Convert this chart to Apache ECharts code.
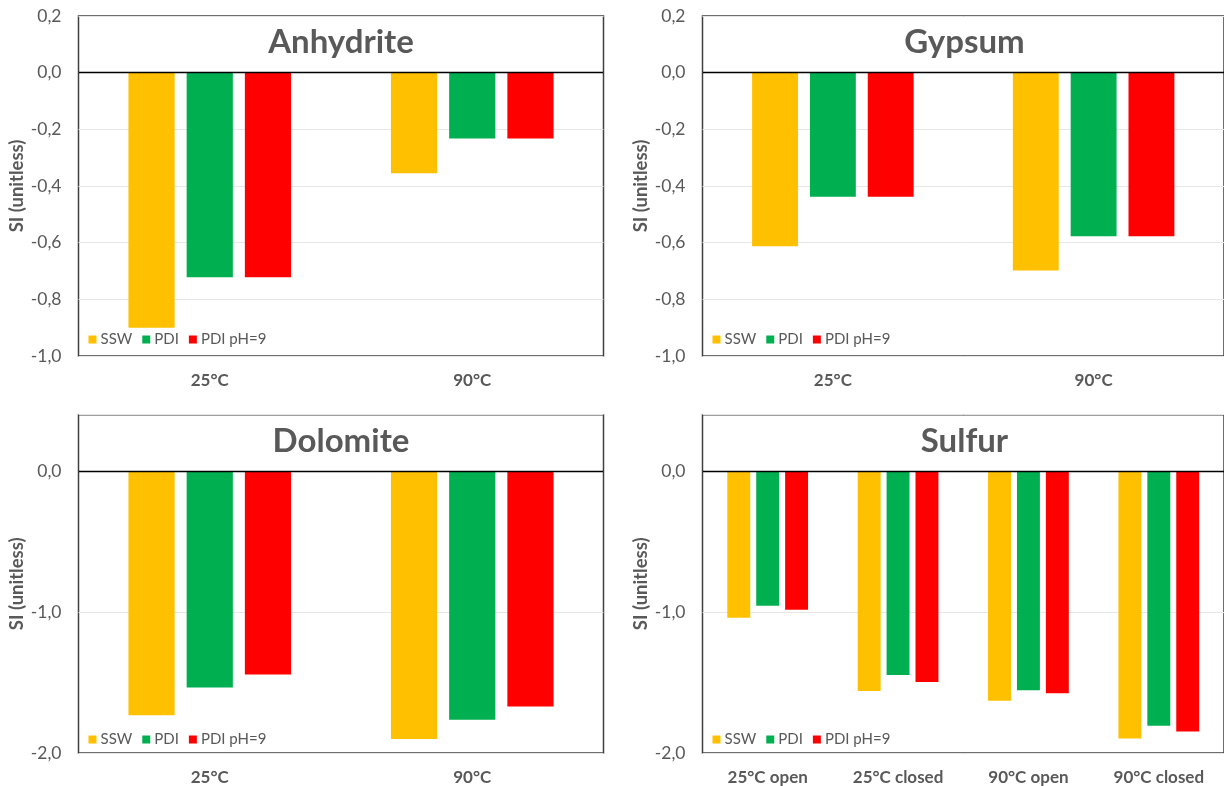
<!DOCTYPE html>
<html>
<head>
<meta charset="utf-8">
<title>Saturation indices</title>
<script src="https://cdn.jsdelivr.net/npm/echarts@6/dist/echarts.min.js"></script>
<style>
  html, body { margin: 0; padding: 0; background: #ffffff; }
  #chart { width: 1224px; height: 786px; }
</style>
</head>
<body>
<div id="chart"></div>
<script>
// Series names and colours
const seriesNames = ['SSW', 'PDI', 'PDI pH=9'];
const seriesColors = ['#FFC000', '#00B050', '#FF0000'];

// Anhydrite
const anhydriteCats = ['25°C', '90°C'];
const anhydriteSSW = [-0.90, -0.355];
const anhydritePDI = [-0.722, -0.232];
const anhydritePDI9 = [-0.722, -0.232];

// Gypsum
const gypsumCats = ['25°C', '90°C'];
const gypsumSSW = [-0.613, -0.698];
const gypsumPDI = [-0.438, -0.577];
const gypsumPDI9 = [-0.438, -0.577];

// Dolomite
const dolomiteCats = ['25°C', '90°C'];
const dolomiteSSW = [-1.733, -1.90];
const dolomitePDI = [-1.535, -1.764];
const dolomitePDI9 = [-1.443, -1.67];

// Sulfur
const sulfurCats = ['25°C open', '25°C closed', '90°C open', '90°C closed'];
const sulfurSSW = [-1.041, -1.561, -1.629, -1.898];
const sulfurPDI = [-0.956, -1.447, -1.554, -1.806];
const sulfurPDI9 = [-0.984, -1.497, -1.577, -1.848];

// Y axis ranges
const topAxis = { min: -1.0, max: 0.2, interval: 0.2 };
const bottomAxis = { min: -2.0, max: 0.4, interval: 1.0 };

const FONT = 'Lato, "Open Sans", sans-serif';
const TEXT = '#595959';

const panels = [
  { title: 'Anhydrite', cats: anhydriteCats, vals: [anhydriteSSW, anhydritePDI, anhydritePDI9], axis: topAxis,
    left: 78.5, top: 16, width: 525, height: 340, legendTop: 332 },
  { title: 'Gypsum', cats: gypsumCats, vals: [gypsumSSW, gypsumPDI, gypsumPDI9], axis: topAxis,
    left: 702.5, top: 16, width: 524, height: 340, legendTop: 332 },
  { title: 'Dolomite', cats: dolomiteCats, vals: [dolomiteSSW, dolomitePDI, dolomitePDI9], axis: bottomAxis,
    left: 78.5, top: 414.7, width: 525, height: 339, legendTop: 732 },
  { title: 'Sulfur', cats: sulfurCats, vals: [sulfurSSW, sulfurPDI, sulfurPDI9], axis: bottomAxis,
    left: 702.5, top: 414.7, width: 524, height: 339, legendTop: 732 }
];

function fmtTick(v, step) {
  // keep only ticks on the interval, printed with a decimal comma
  const k = v / step;
  if (Math.abs(k - Math.round(k)) > 1e-6) return '';
  return v.toFixed(1).replace('.', ',');
}

const option = {
  backgroundColor: '#ffffff',
  animation: false,
  title: [],
  legend: [],
  grid: [],
  xAxis: [],
  yAxis: [],
  series: []
};

panels.forEach((p, i) => {
  option.grid.push({
    left: p.left, top: p.top, width: p.width, height: p.height,
    show: true, borderColor: '#404040', borderWidth: 1.5, backgroundColor: '#ffffff'
  });
  option.title.push({
    text: p.title,
    left: p.left + p.width / 2,
    top: p.top + 10,
    padding: 0,
    textAlign: 'center',
    textStyle: { fontFamily: FONT, fontSize: 33, fontWeight: 'bold', color: TEXT }
  });
  option.legend.push({
    data: seriesNames,
    left: p.left + 10,
    top: p.legendTop,
    padding: 0,
    orient: 'horizontal',
    icon: 'rect',
    itemWidth: 8,
    itemHeight: 8,
    itemGap: 10,
    selectedMode: false,
    textStyle: { fontFamily: FONT, fontSize: 15, color: TEXT, padding: [0, 0, 0, -1] }
  });
  option.xAxis.push({
    type: 'category',
    gridIndex: i,
    data: p.cats,
    position: 'bottom',
    axisLine: { show: false, onZero: false },
    axisTick: { show: false },
    axisLabel: { margin: 16, fontFamily: FONT, fontSize: 17, fontWeight: 'bold', color: TEXT },
    splitLine: { show: false }
  });
  const step = p.axis.interval;
  option.yAxis.push({
    type: 'value',
    gridIndex: i,
    min: p.axis.min,
    max: p.axis.max,
    interval: step,
    name: 'SI (unitless)',
    nameLocation: 'middle',
    nameGap: 50,
    nameTextStyle: { fontFamily: FONT, fontSize: 18.5, fontWeight: 'bold', color: TEXT },
    axisLine: { show: false },
    axisTick: { show: false },
    axisLabel: {
      margin: 17, fontFamily: FONT, fontSize: 17.5, color: TEXT,
      formatter: (v) => fmtTick(v, step)
    },
    splitLine: { show: true, lineStyle: { color: '#e6e6e6', width: 1 } }
  });
  p.vals.forEach((vals, s) => {
    const ser = {
      name: seriesNames[s],
      type: 'bar',
      xAxisIndex: i,
      yAxisIndex: i,
      data: vals,
      barWidth: '17.6%',
      barGap: '26%',
      itemStyle: { color: seriesColors[s] }
    };
    if (s === 0) {
      // zero reference line across the plot
      ser.markLine = {
        silent: true,
        symbol: 'none',
        label: { show: false },
        lineStyle: { color: '#000000', width: 1.3, type: 'solid' },
        data: [{ yAxis: 0 }],
        z: 10
      };
    }
    option.series.push(ser);
  });
});

const chart = echarts.init(document.getElementById('chart'), null, { renderer: 'canvas' });
chart.setOption(option);
</script>
</body>
</html>
